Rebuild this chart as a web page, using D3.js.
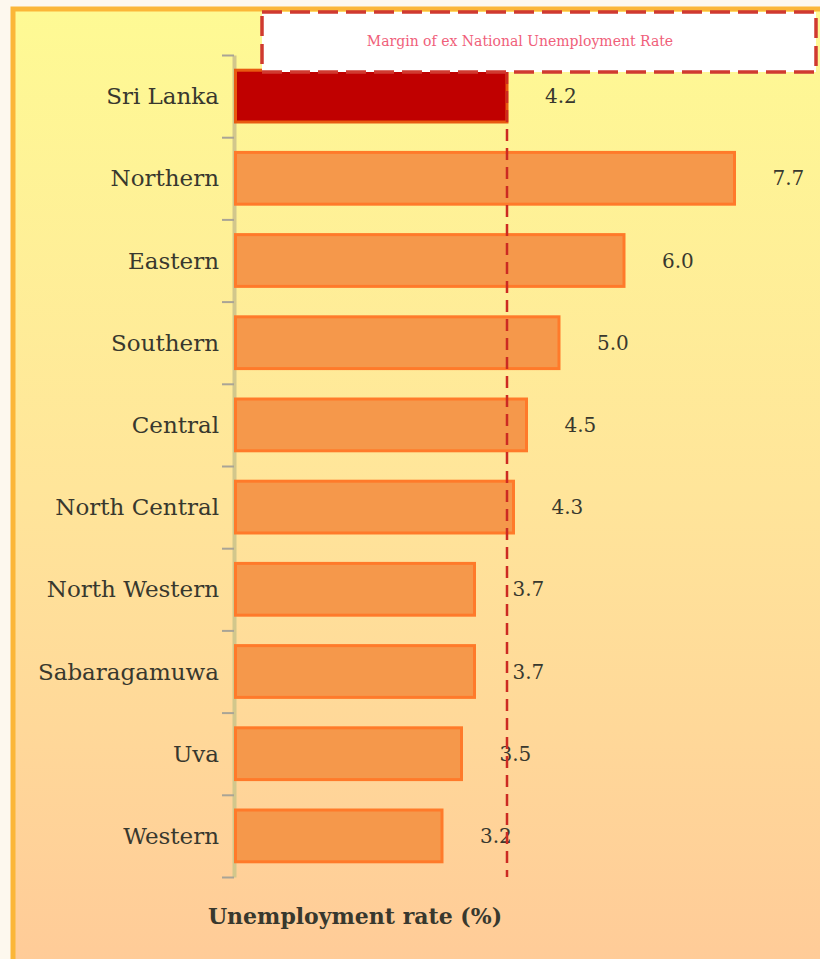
<html>
<head>
<style>
  body { margin: 0; background: #fdf8ee; }
  .cat { font: 23px "DejaVu Serif", serif; fill: #38382e; }
  .val { font: 20px "DejaVu Serif", serif; fill: #38382e; }
</style>
</head>
<script src="https://d3js.org/d3.v7.min.js"></script>
<body>
<div id="chart"></div>
<script>
var regions = ["Sri Lanka", "Northern", "Eastern", "Southern", "Central", "North Central",
               "North Western", "Sabaragamuwa", "Uva", "Western"];
var rates = [4.2, 7.7, 6.0, 5.0, 4.5, 4.3, 3.7, 3.7, 3.5, 3.2];
var rateLabels = ["4.2", "7.7", "6.0", "5.0", "4.5", "4.3", "3.7", "3.7", "3.5", "3.2"];
var nationalRate = 4.2;
var legendText = "Margin of ex National Unemployment Rate";
var axisTitle = "Unemployment rate (%)";

var width = 820, height = 959;

var svg = d3.select("#chart").append("svg")
    .attr("width", width)
    .attr("height", height);

// background panel with gradient
var grad = svg.append("defs").append("linearGradient")
    .attr("id", "bg").attr("x1", 0).attr("y1", 0).attr("x2", 0).attr("y2", 1);
grad.append("stop").attr("offset", "0%").attr("stop-color", "#fefa94");
grad.append("stop").attr("offset", "50%").attr("stop-color", "#ffe59a");
grad.append("stop").attr("offset", "100%").attr("stop-color", "#ffcb98");

svg.append("rect")
    .attr("x", 13).attr("y", 9)
    .attr("width", width).attr("height", height)
    .attr("fill", "url(#bg)")
    .attr("stroke", "#fbb638").attr("stroke-width", 5);

var x = d3.scaleLinear().domain([0, 8]).range([234, 754]);
var y = d3.scaleBand().domain(regions).range([55, 877]);
var yTicks = d3.scaleLinear().domain([0, regions.length]).range([55, 877]);

// axis with ticks at the category boundaries
var axis = svg.append("g")
    .attr("transform", "translate(234,0)")
    .call(d3.axisLeft(yTicks).tickValues(d3.range(regions.length + 1)).tickFormat("").tickSize(12).tickSizeOuter(0));
axis.select(".domain").attr("stroke", "#d2c78c").attr("stroke-width", 4);
axis.selectAll(".tick line").attr("stroke", "#a9a496").attr("stroke-width", 2);

// category labels
svg.selectAll(".cat")
    .data(regions)
    .enter().append("text")
      .attr("class", "cat")
      .attr("x", 219)
      .attr("y", function(d) { return y(d) + y.bandwidth() / 2; })
      .attr("dy", ".35em")
      .style("text-anchor", "end")
      .text(function(d) { return d; });

// bars
var bh = y.bandwidth() * 0.63;
svg.selectAll(".bar")
    .data(regions)
    .enter().append("rect")
      .attr("class", "bar")
      .attr("x", x(0) + 1.5)
      .attr("y", function(d) { return y(d) + (y.bandwidth() - bh) / 2; })
      .attr("width", function(d, i) { return x(rates[i]) - x(0) - 1.5; })
      .attr("height", bh)
      .attr("fill", function(d, i) { return i === 0 ? "#c00000" : "#f5984b"; })
      .attr("stroke", function(d, i) { return i === 0 ? "#e85a10" : "#ff7a2a"; })
      .attr("stroke-width", 3);

// value labels
svg.selectAll(".val")
    .data(regions)
    .enter().append("text")
      .attr("class", "val")
      .attr("x", function(d, i) { return x(rates[i]) + 38; })
      .attr("y", function(d) { return y(d) + y.bandwidth() / 2; })
      .attr("dy", ".35em")
      .text(function(d, i) { return rateLabels[i]; });

// national rate reference line
svg.append("line")
    .attr("x1", x(nationalRate)).attr("x2", x(nationalRate))
    .attr("y1", 72).attr("y2", 877)
    .attr("stroke", "#cc2a22")
    .attr("stroke-width", 2.5)
    .attr("stroke-dasharray", "12,7");

// legend box
svg.append("rect")
    .attr("x", 262).attr("y", 12)
    .attr("width", 554).attr("height", 60)
    .attr("fill", "#ffffff")
    .attr("stroke", "#d03a30")
    .attr("stroke-width", 3.5)
    .attr("stroke-dasharray", "20,8");

svg.append("text")
    .attr("x", 520).attr("y", 41)
    .attr("dy", ".35em")
    .style("text-anchor", "middle")
    .style("font", "14px 'DejaVu Serif', serif")
    .style("fill", "#f0607a")
    .text(legendText);

// axis title
svg.append("text")
    .attr("x", 355).attr("y", 916)
    .attr("dy", ".35em")
    .style("text-anchor", "middle")
    .style("font", "bold 22px 'DejaVu Serif', serif")
    .style("fill", "#38382e")
    .text(axisTitle);
</script>
</body>
</html>
